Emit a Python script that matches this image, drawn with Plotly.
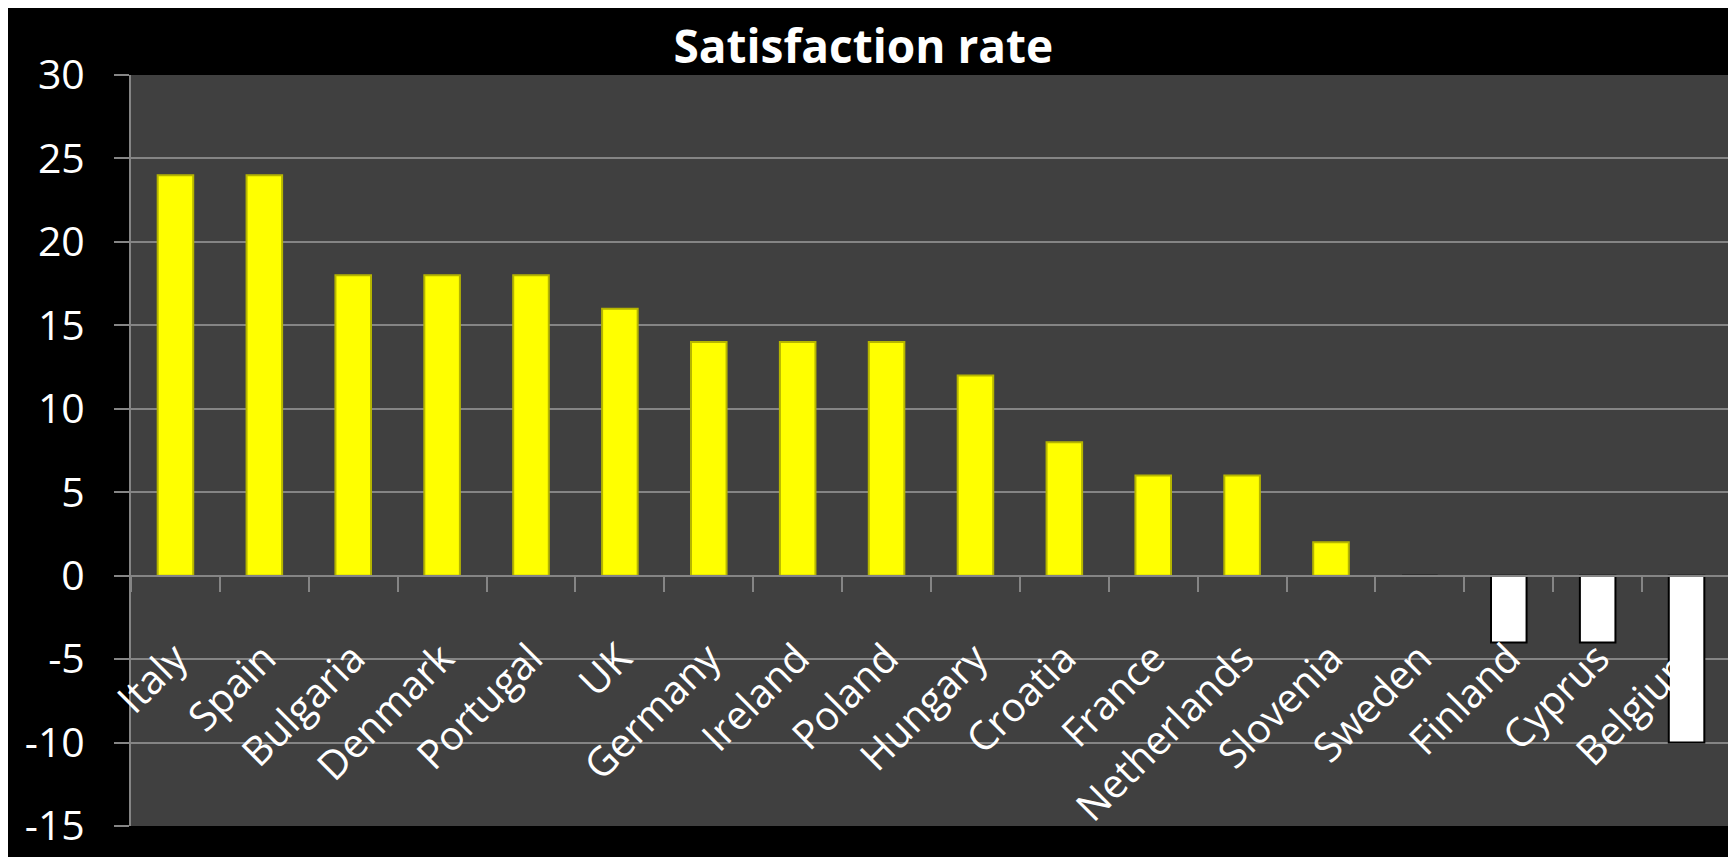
import plotly.graph_objects as go

countries = ["Italy", "Spain", "Bulgaria", "Denmark", "Portugal", "UK", "Germany",
             "Ireland", "Poland", "Hungary", "Croatia", "France", "Netherlands",
             "Slovenia", "Sweden", "Finland", "Cyprus", "Belgium"]
values = [24, 24, 18, 18, 18, 16, 14, 14, 14, 12, 8, 6, 6, 2, 0, -4, -4, -10]
y_ticks = [-15, -10, -5, 0, 5, 10, 15, 20, 25, 30]
y_tick_text = [str(v) for v in y_ticks]

fill_colors = ["#FFFF00" if v > 0 else "#FFFFFF" for v in values]
edge_colors = ["#B5B500" if v > 0 else "#000000" for v in values]

# page body has an 8px margin; the figure is sized to fill the rest of the window
W, H = 1728, 849
L, R, T, B = 123, 5, 67, 28

fig = go.Figure()
fig.add_trace(go.Bar(
    x=countries, y=values, width=0.40,
    marker=dict(color=fill_colors, line=dict(color=edge_colors, width=2)),
    hoverinfo="x+y",
))

grid = "#858585"
fig.update_layout(
    width=W, height=H,
    margin=dict(l=L, r=R, t=T, b=B),
    paper_bgcolor="#000000",
    plot_bgcolor="#404040",
    showlegend=False,
    title=dict(text="<b>Satisfaction rate</b>", xref="container", yref="container",
               x=0.495, y=1 - 39 / H, xanchor="center", yanchor="middle",
               font=dict(family="Open Sans", size=46, color="#FFFFFF")),
    xaxis=dict(
        type="category", range=[-0.5, 17.5], anchor="free",
        position=15 / 45,
        showline=True, linecolor=grid, linewidth=2,
        ticks="outside", tickson="boundaries", ticklen=15, tickwidth=2, tickcolor=grid,
        tickangle=-45, tickfont=dict(family="Open Sans", size=40, color="#FFFFFF"),
        showgrid=False, zeroline=False, ticklabelstandoff=42,
    ),
    yaxis=dict(
        range=[-15, 30], tickvals=y_ticks, ticktext=y_tick_text,
        showline=True, linecolor=grid, linewidth=2,
        ticks="outside", ticklen=15, tickwidth=2, tickcolor=grid,
        tickfont=dict(family="Open Sans", size=41, color="#FFFFFF"),
        showgrid=True, gridcolor=grid, gridwidth=2, zeroline=False,
        ticklabelstandoff=21,
    ),
)

fig.write_html("out.html")
